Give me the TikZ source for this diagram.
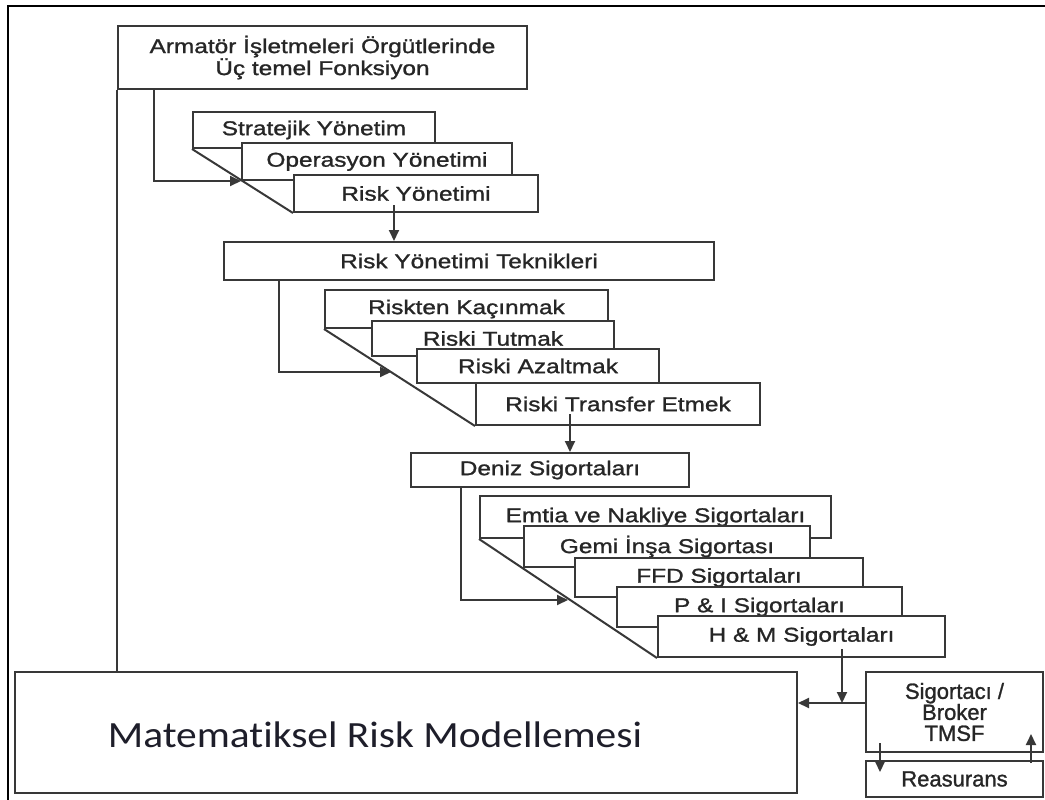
\documentclass[tikz,border=0pt]{standalone}
\usepackage{fontspec}
\usetikzlibrary{arrows.meta}
\newfontfamily\boxfont[FakeStretch=1.22,FakeBold=1.2]{Liberation Sans}
\newfontfamily\sidefont[FakeStretch=1.0,FakeBold=1.2]{Liberation Sans}
\newfontfamily\modelfont[FakeStretch=1.12,RawFeature=-liga]{Carlito}
\definecolor{ink}{HTML}{262626}
\definecolor{edge}{HTML}{383838}
\definecolor{modelink}{HTML}{1E1E2A}
\begin{document}
\begin{tikzpicture}[x=1pt,y=-1pt,
  tbox/.style={draw=edge, line width=2pt, fill=white, inner sep=0pt, text=ink,
               font=\boxfont\fontsize{20}{22}\selectfont},
  sbox/.style={tbox, font=\sidefont\fontsize{22}{21}\selectfont},
  conn/.style={draw=edge, line width=2pt},
  arr/.style={conn, -{Triangle[length=11pt,width=10pt]}},
]
\useasboundingbox (0,0) rectangle (1045,800);

% outer frame (top and left edges)
\draw[line width=2.5pt, black] (8,800) -- (8,6) -- (1045,6);

% top box
\node[tbox, minimum width=409pt, minimum height=63pt, align=center] (top) at (322.5,57.5)
  {Armatör İşletmeleri Örgütlerinde\\Üç temel Fonksiyon};

% first stack: three basic functions
\node[tbox, minimum width=242pt, minimum height=36pt] (strat) at (314,130) {Stratejik Yönetim};
\node[tbox, minimum width=270pt, minimum height=37pt] (oper) at (377,161.5) {Operasyon Yönetimi};
\node[tbox, minimum width=244pt, minimum height=37pt] (risk) at (416,193.5) {Risk Yönetimi};

% risk management techniques
\node[tbox, minimum width=490pt, minimum height=38pt] (ryt) at (469,261) {Risk Yönetimi Teknikleri};

% second stack
\node[tbox, minimum width=283pt, minimum height=38pt] (kac) at (466.5,309) {Riskten Kaçınmak};
\node[tbox, minimum width=242pt, minimum height=35pt] (tut) at (493,338.5) {Riski Tutmak};
\node[tbox, minimum width=242pt, minimum height=34pt] (aza) at (538,366) {Riski Azaltmak};
\node[tbox, minimum width=284pt, minimum height=42pt] (tra) at (618,404) {Riski Transfer Etmek};

% marine insurance
\node[tbox, minimum width=278pt, minimum height=34pt] (deniz) at (550,470) {Deniz Sigortaları};

% third stack
\node[tbox, minimum width=351pt, minimum height=42pt] (emt) at (655.5,517) {Emtia ve Nakliye Sigortaları};
\node[tbox, minimum width=286pt, minimum height=41pt] (gemi) at (667,546.5) {Gemi İnşa Sigortası};
\node[tbox, minimum width=288pt, minimum height=39pt] (ffd) at (719,577.5) {FFD Sigortaları};
\node[tbox, minimum width=285pt, minimum height=40pt] (pi) at (759.5,607) {P \& I Sigortaları};
\node[tbox, minimum width=287pt, minimum height=41pt] (hm) at (801.5,636.5) {H \& M Sigortaları};

% bottom row
\node[tbox, minimum width=782pt, minimum height=121pt] (mat) at (406,732.5) {};
\node[text=modelink, inner sep=0pt, font=\modelfont\fontsize{37}{42}\selectfont] (mattext) at (375,735)
  {Matematiksel Risk Modellemesi};
\node[sbox, minimum width=177pt, minimum height=80pt, align=center] (sig) at (954.5,712)
  {Sigortacı /\\Broker\\TMSF};
\node[sbox, minimum width=177pt, minimum height=36pt] (rea) at (954.5,779) {Reasurans};

% diagonal edges of the stacks
\draw[conn] (strat.south west) -- (risk.south west);
\draw[conn] (kac.south west) -- (tra.south west);
\draw[conn] (emt.south west) -- (hm.south west);

% connectors
\draw[conn] (top.south west) -- (top.south west |- mat.north);
\draw[arr] ([xshift=37pt]top.south west) |- (oper.south west);
\draw[arr] ([xshift=-22pt,yshift=8pt]risk.south) -- ([xshift=-22pt]risk.south |- ryt.north);

\coordinate (s2) at (391,372);
\draw[arr] ([xshift=56pt]ryt.south west) |- (s2);
\draw[arr] ([xshift=-48pt,yshift=12pt]tra.south) -- ([xshift=-48pt]tra.south |- deniz.north);

\coordinate (s3) at (568,600);
\draw[arr] ([xshift=51pt]deniz.south west) |- (s3);

\coordinate (j) at (842,703);
\draw[arr] ([xshift=40.5pt,yshift=9pt]hm.south) -- (j);
\draw[arr] ([yshift=9pt]sig.west) -- (j -| mat.east);

\draw[arr] ([xshift=15pt,yshift=10pt]sig.south west) -- ([xshift=15pt,yshift=-12pt]rea.north west);
\draw[arr] ([xshift=-13pt,yshift=-3pt]rea.north east) -- ([xshift=-13pt,yshift=19pt]sig.south east);
\end{tikzpicture}
\end{document}
